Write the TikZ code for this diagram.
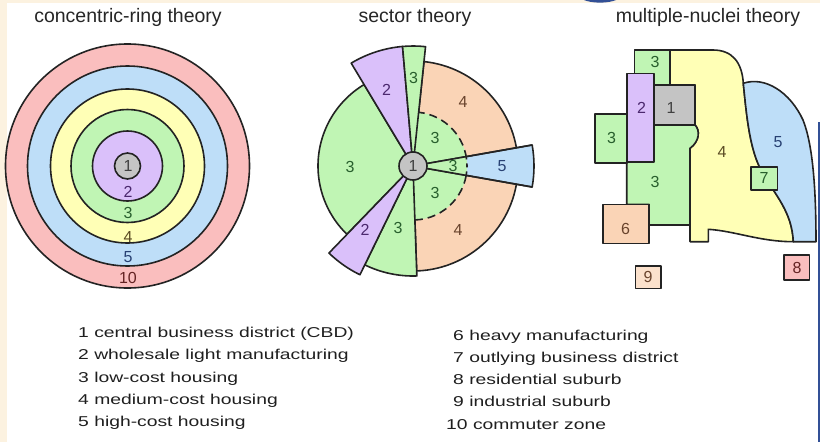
\documentclass[tikz,border=0pt]{standalone}
\usepackage{fontspec}
\setmainfont{Liberation Sans}
\newfontfamily\keyfont[FakeStretch=1.35]{Liberation Sans}
\usepackage{tikz}
\definecolor{ringpink}{RGB}{250,190,190}
\definecolor{ringblue}{RGB}{190,222,248}
\definecolor{ringyellow}{RGB}{255,255,182}
\definecolor{ringgreen}{RGB}{192,245,180}
\definecolor{ringpurple}{RGB}{218,192,250}
\definecolor{cbdgray}{RGB}{196,196,196}
\definecolor{peach}{RGB}{250,212,182}
\definecolor{edgeblack}{RGB}{35,35,35}
\definecolor{creamedge}{RGB}{252,242,224}
\definecolor{framenavy}{RGB}{50,80,150}
\definecolor{txtpurple}{RGB}{75,40,110}
\definecolor{txtgreen}{RGB}{40,95,45}
\definecolor{txtolive}{RGB}{90,75,35}
\definecolor{txtblue}{RGB}{40,65,115}
\definecolor{txtred}{RGB}{100,35,35}
\definecolor{txtbrown}{RGB}{105,68,45}
\colorlet{txtgray}{black!75}
\tikzset{
  zone/.style={draw=edgeblack,line width=1.6pt,line join=round},
  num/.style={font=\fontsize{16}{16}\selectfont,inner sep=0pt},
  theorytitle/.style={font=\fontsize{19.5}{20}\selectfont,anchor=base,
                      inner sep=0pt,text=black!85},
  keytext/.style={font=\keyfont\fontsize{14.3}{22.3}\selectfont,align=left,
                  anchor=north west,inner sep=0pt,text=black!88},
}

\begin{document}
\begin{tikzpicture}[x=1pt,y=-1pt]
        \useasboundingbox (0,0) rectangle (820,442);
        \fill[white] (0,0) rectangle (820,442);
        \fill[creamedge] (0,0) rectangle (7,442);
        \fill[creamedge] (0,0) rectangle (820,3);
        \fill[framenavy] (817.5,122) rectangle (820,442);
        \fill[framenavy] (584,0) .. controls (592,3.5) and (608,3.5) .. (616,0) -- cycle;
        % titles
        \node[theorytitle] (ringtitle) at (128,22) {concentric-ring theory};
        \node[theorytitle] (sectortitle) at (415,22) {sector theory};
        \node[theorytitle] (nucleititle) at (708,22) {multiple-nuclei theory};
        % concentric rings
        \coordinate (ringc) at (127.5,166);
        \draw[zone,fill=ringpink] (ringc) circle[radius=122];
        \draw[zone,fill=ringblue] (ringc) circle[radius=100];
        \draw[zone,fill=ringyellow] (ringc) circle[radius=77];
        \draw[zone,fill=ringgreen] (ringc) circle[radius=56.5];
        \draw[zone,fill=ringpurple] (ringc) circle[radius=35];
        \draw[zone,fill=cbdgray] (ringc) circle[radius=13];
        \node[num,text=txtgray] (ring1) at (128,166) {1};
        \node[num,text=txtpurple] (ring2) at (128,192) {2};
        \node[num,text=txtgreen] (ring3) at (128,213) {3};
        \node[num,text=txtolive] (ring4) at (128,236.5) {4};
        \node[num,text=txtblue] (ring5) at (128,257) {5};
        \node[num,text=txtred] (ring10) at (128,278) {10};
        % sectors
        \begin{scope}[shift={(413,166)},yscale=-1]
          \draw[zone,fill=peach] (0,0) -- (-88:105)
               arc[start angle=-88,end angle=84,radius=105] -- cycle;
          \fill[ringgreen] (0,0) -- (-88:54)
               arc[start angle=-88,end angle=84,radius=54] -- cycle;
          \draw[zone,dash pattern=on 8pt off 5pt] (-88:54)
               arc[start angle=-88,end angle=84,radius=54];
          \draw[zone,fill=ringblue] (0,0) -- (-10:121)
               arc[start angle=-10,end angle=10,radius=121] -- cycle;
          \fill[ringgreen] (0,0) -- (-10:54)
               arc[start angle=-10,end angle=10,radius=54] -- cycle;
          \draw[zone,dash pattern=on 4pt off 4pt] (-10:54)
               arc[start angle=-10,end angle=10,radius=54];
          \draw[zone] (-10:121) -- (0,0) -- (10:121);
          \draw[zone,fill=ringgreen] (0,0) -- (121:95)
               arc[start angle=121,end angle=226,radius=95] -- cycle;
          \draw[zone,fill=ringgreen] (0,0) -- (244:110)
               arc[start angle=244,end angle=272,radius=110] -- cycle;
          \draw[zone,fill=ringpurple] (0,0) -- (226:121)
               arc[start angle=226,end angle=244,radius=121] -- cycle;
          \draw[zone,fill=ringpurple] (0,0) -- (95:120)
               arc[start angle=95,end angle=121,radius=120] -- cycle;
          \draw[zone,fill=ringgreen] (0,0) -- (84:120)
               arc[start angle=84,end angle=95,radius=120] -- cycle;
          \draw[zone,fill=cbdgray] (0,0) circle[radius=14];
        \end{scope}
        \node[num,text=txtgray] (sec1) at (413,166) {1};
        \node[num,text=txtpurple] (sec2up) at (386.5,90) {2};
        \node[num,text=txtgreen] (sec3up) at (413.5,78) {3};
        \node[num,text=txtbrown] (sec4up) at (463,102) {4};
        \node[num,text=txtgreen] (sec3left) at (350,167) {3};
        \node[num,text=txtgreen] (sec3a) at (435,138) {3};
        \node[num,text=txtgreen] (sec3b) at (453,166) {3};
        \node[num,text=txtblue] (sec5) at (502,166) {5};
        \node[num,text=txtgreen] (sec3c) at (435,193) {3};
        \node[num,text=txtbrown] (sec4low) at (458,230) {4};
        \node[num,text=txtpurple] (sec2low) at (365,230) {2};
        \node[num,text=txtgreen] (sec3low) at (398,228) {3};
        % multiple nuclei
        \draw[zone,fill=ringyellow] (670,50) -- (713,50)
             .. controls (732,50) and (742,62) .. (743.3,83.3)
             .. controls (747,120) and (750,150) .. (762,172)
             .. controls (776,196) and (792,212) .. (793.3,241.7)
             .. controls (760,241.7) and (735,231) .. (708.3,229.3)
             -- (708.3,241.7) -- (690,241.7) -- (690,148.3)
             .. controls (700,141) and (700,130) .. (695,125)
             -- (695,85) -- (670,85) -- cycle;
        \draw[zone,fill=ringblue] (743.3,83.3)
             .. controls (765,76) and (790,92) .. (803,120)
             .. controls (813,145) and (816,190) .. (816,241.7)
             -- (793.3,241.7)
             .. controls (792,212) and (776,196) .. (762,172)
             .. controls (750,150) and (747,120) .. (743.3,83.3) -- cycle;
        \draw[zone,fill=ringgreen] (626.7,125) -- (695,125)
             .. controls (700,130) and (700,141) .. (690,148.3)
             -- (690,225) -- (649,225) -- (649,204.3) -- (626.7,204.3) -- cycle;
        \draw[zone,fill=ringgreen] (634.3,50) rectangle (670,85);
        \draw[zone,fill=ringgreen] (595,114) rectangle (626.7,162.7);
        \draw[zone,fill=ringpurple] (626.7,73.3) rectangle (654,161.7);
        \draw[zone,fill=cbdgray] (654,85) rectangle (695,125);
        \draw[zone,fill=peach] (602.7,204.3) rectangle (649,243.3);
        \draw[zone,fill=ringgreen] (750.7,166.7) rectangle (777.3,190);
        \draw[zone,fill=ringpink] (784,255) rectangle (809.3,280);
        \draw[zone,fill=peach!70] (635.3,265.7) rectangle (660.7,288.3);
        \node[num,text=txtgreen] (nuc3top) at (655,62) {3};
        \node[num,text=txtpurple] (nuc2) at (641.5,108) {2};
        \node[num,text=txtgray] (nuc1) at (671,108) {1};
        \node[num,text=txtgreen] (nuc3left) at (611.5,138) {3};
        \node[num,text=txtgreen] (nuc3mid) at (655,182) {3};
        \node[num,text=txtolive] (nuc4) at (722,152) {4};
        \node[num,text=txtblue] (nuc5) at (778,142) {5};
        \node[num,text=txtgreen] (nuc7) at (764,178) {7};
        \node[num,text=txtbrown] (nuc6) at (625.5,229) {6};
        \node[num,text=txtred] (nuc8) at (797,267.5) {8};
        \node[num,text=txtbrown] (nuc9) at (648,277) {9};
        % key
        \node[keytext] (keyleft) at (78,327)
             {1 central business district (CBD)\\
              2 wholesale light manufacturing\\
              3 low-cost housing\\
              4 medium-cost housing\\
              5 high-cost housing};
        \node[keytext] (keyright) at (446,329.5)
             {\hspace*{7pt}6 heavy manufacturing\\
              \hspace*{7pt}7 outlying business district\\
              \hspace*{7pt}8 residential suburb\\
              \hspace*{7pt}9 industrial suburb\\
              10 commuter zone};
      \end{tikzpicture}
\end{document}
